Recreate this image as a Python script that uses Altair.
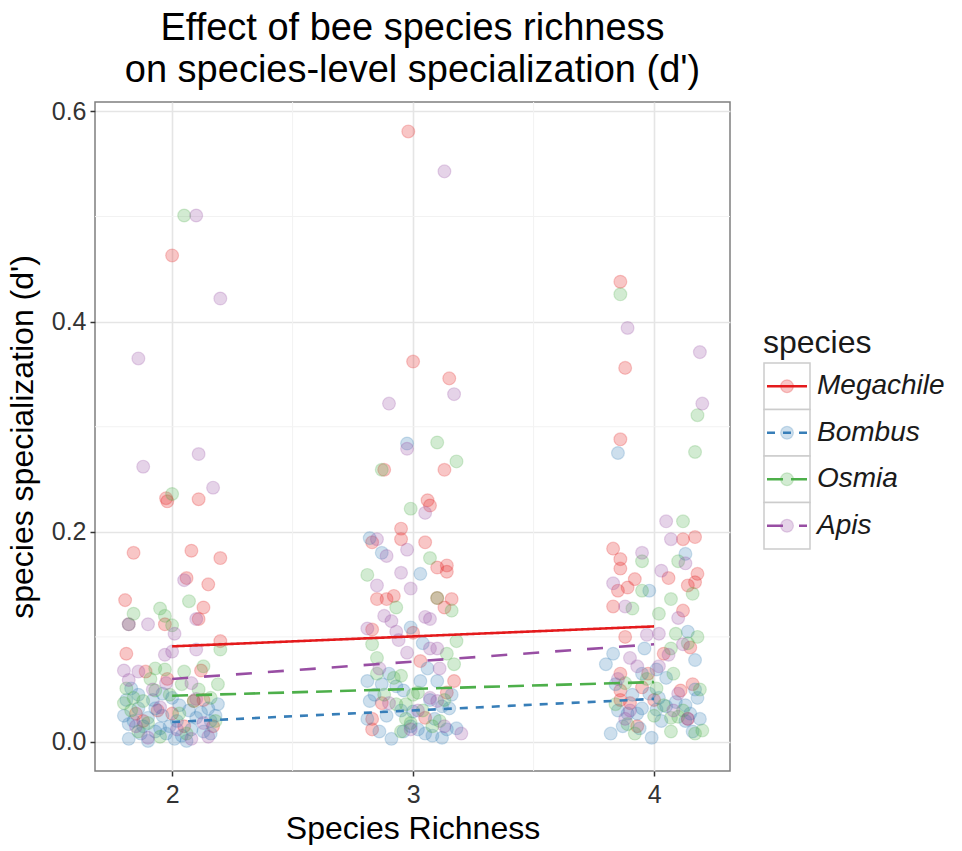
import altair as alt
import pandas as pd

# ---- data -------------------------------------------------------------
species = ["Megachile", "Bombus", "Osmia", "Apis"]
colors = ["#E41A1C", "#377EB8", "#4DAF4A", "#984EA3"]
dashes = [[1, 0], [8, 8], [16, 8], [16, 16]]

richness_ticks = [2, 3, 4]
d_ticks = [0.0, 0.2, 0.4, 0.6]
minor_x = [2.5, 3.5]
minor_y = [0.1, 0.3, 0.5]

# fitted d' at richness 2 and 4 for each species
trend_richness = [2, 4]
trend_megachile = [0.091, 0.110]
trend_bombus = [0.019, 0.041]
trend_osmia = [0.044, 0.057]
trend_apis = [0.060, 0.093]

# jittered observations: (richness, d')
megachile = [
    (1.975, 0.232), (1.98, 0.229), (2.11, 0.231), (2.00, 0.463), (1.84, 0.180),
    (2.08, 0.182), (2.20, 0.175), (2.06, 0.156), (2.15, 0.150), (1.805, 0.135),
    (2.13, 0.128), (1.82, 0.112), (1.97, 0.112), (2.11, 0.117), (2.20, 0.096),
    (1.81, 0.084), (1.89, 0.067), (2.12, 0.068), (1.85, 0.027), (2.00, 0.027),
    (2.05, 0.015), (2.17, 0.015), (1.94, 0.030), (2.09, 0.039),
    (1.88, 0.020), (2.13, 0.040), (1.98, 0.060),
    (2.98, 0.581), (3.00, 0.362), (3.15, 0.346), (2.88, 0.259), (3.13, 0.259),
    (3.06, 0.230), (3.07, 0.225), (2.95, 0.203), (2.83, 0.190), (2.95, 0.193),
    (3.05, 0.190), (3.10, 0.166), (3.14, 0.168), (3.14, 0.162), (2.85, 0.136),
    (2.89, 0.136), (2.92, 0.139), (3.10, 0.137), (3.16, 0.136), (3.13, 0.128),
    (2.83, 0.107), (3.00, 0.104), (3.03, 0.077), (3.17, 0.058), (3.14, 0.047),
    (2.87, 0.037), (2.83, 0.022), (2.83, 0.012), (3.05, 0.023),
    (3.86, 0.438), (3.88, 0.356), (3.86, 0.288), (4.12, 0.193), (4.17, 0.195),
    (3.83, 0.184), (3.86, 0.174), (3.86, 0.165), (4.06, 0.156), (4.18, 0.160),
    (4.17, 0.152), (4.14, 0.149), (3.92, 0.155), (3.89, 0.147), (3.85, 0.144),
    (3.83, 0.129), (4.12, 0.125), (3.88, 0.100), (4.15, 0.090), (4.04, 0.084),
    (3.86, 0.065), (3.975, 0.065), (3.86, 0.049), (3.95, 0.052), (4.16, 0.055),
    (4.11, 0.049), (3.86, 0.040), (3.90, 0.037), (4.14, 0.022),
    (4.00, 0.040), (3.93, 0.015),
]
bombus = [
    (1.82, 0.112), (1.80, 0.025), (1.82, 0.017), (1.82, 0.003), (1.86, 0.032),
    (1.90, 0.023), (1.93, 0.032), (1.96, 0.046), (1.93, 0.010), (1.95, 0.013),
    (1.975, 0.008), (2.02, 0.020), (2.04, 0.006), (2.10, 0.023), (2.15, 0.032),
    (2.16, 0.020), (2.13, 0.010), (2.16, 0.008), (2.00, 0.042), (1.83, 0.051),
    (1.88, 0.015), (2.07, 0.030), (1.90, 0.001), (2.06, 0.001),
    (1.84, 0.020), (1.87, 0.008), (1.92, 0.040), (1.99, 0.015), (2.03, 0.035),
    (2.08, 0.012), (2.12, 0.028), (2.18, 0.025), (1.86, 0.045), (1.96, 0.025),
    (2.01, 0.003), (2.19, 0.036), (1.81, 0.040),
    (2.82, 0.194), (2.87, 0.180), (3.03, 0.160), (2.975, 0.284), (2.99, 0.109),
    (3.04, 0.094), (2.81, 0.058), (2.87, 0.055), (3.03, 0.058), (3.10, 0.058),
    (2.93, 0.053), (2.96, 0.049), (2.82, 0.039), (3.12, 0.034), (3.15, 0.032),
    (2.81, 0.022), (2.86, 0.010), (2.91, 0.003), (2.96, 0.010), (3.05, 0.008),
    (3.08, 0.006), (3.12, 0.004), (3.18, 0.013), (2.99, 0.015), (3.00, 0.029),
    (3.07, 0.040),
    (2.84, 0.045), (2.89, 0.025), (2.95, 0.030), (3.02, 0.012), (3.09, 0.022),
    (3.14, 0.012), (3.16, 0.045), (2.90, 0.065), (3.06, 0.070),
    (3.85, 0.275), (4.13, 0.179), (3.98, 0.144), (3.96, 0.089), (4.14, 0.105),
    (3.83, 0.084), (4.17, 0.078), (3.80, 0.074), (4.01, 0.069), (3.95, 0.065),
    (4.05, 0.061), (4.17, 0.050), (3.98, 0.046), (4.02, 0.042), (4.18, 0.042),
    (3.85, 0.030), (3.89, 0.027), (3.93, 0.027), (3.95, 0.032), (3.94, 0.013),
    (3.82, 0.008), (3.99, 0.004), (4.13, 0.020), (4.15, 0.027), (4.19, 0.022),
    (4.05, 0.034), (4.01, 0.031), (4.13, 0.035),
    (3.87, 0.015), (3.91, 0.045), (4.03, 0.020), (4.09, 0.038), (4.16, 0.010),
    (3.84, 0.055),
]
osmia = [
    (2.05, 0.501), (2.00, 0.236), (1.84, 0.122), (1.95, 0.127), (2.07, 0.134),
    (1.97, 0.120), (2.00, 0.111), (2.20, 0.088), (1.93, 0.070), (1.97, 0.069),
    (2.13, 0.072), (2.05, 0.067), (2.19, 0.055), (1.80, 0.037), (1.84, 0.042),
    (1.88, 0.039), (1.93, 0.049), (1.81, 0.051), (2.03, 0.027), (2.09, 0.039),
    (2.06, 0.008), (1.90, 0.018), (2.16, 0.042),
    (1.83, 0.030), (1.91, 0.060), (1.99, 0.045), (2.11, 0.050), (2.18, 0.020),
    (1.86, 0.010), (2.04, 0.055), (1.95, 0.005),
    (3.18, 0.267), (3.10, 0.285), (2.87, 0.259), (2.99, 0.222), (3.07, 0.175),
    (2.81, 0.159), (2.93, 0.128), (3.10, 0.137), (3.16, 0.125), (2.83, 0.093),
    (3.18, 0.096), (3.14, 0.084), (3.17, 0.074), (2.85, 0.065), (2.92, 0.061),
    (2.95, 0.063), (3.02, 0.047), (2.93, 0.036), (2.97, 0.036), (2.97, 0.022),
    (2.99, 0.018), (3.11, 0.020), (3.00, 0.045),
    (2.88, 0.045), (2.95, 0.010), (3.04, 0.030), (3.08, 0.015), (3.13, 0.040),
    (2.85, 0.080),
    (3.86, 0.426), (4.18, 0.311), (4.17, 0.276), (4.12, 0.210), (3.95, 0.172),
    (4.10, 0.172), (3.95, 0.144), (4.16, 0.141), (4.07, 0.136), (3.91, 0.127),
    (4.02, 0.122), (4.09, 0.103), (4.18, 0.100), (4.07, 0.089), (4.14, 0.094),
    (4.08, 0.065), (3.88, 0.056), (4.01, 0.051), (3.84, 0.036), (3.89, 0.017),
    (4.07, 0.023), (4.07, 0.010), (4.10, 0.024), (4.17, 0.008), (4.20, 0.011),
    (4.04, 0.035),
    (3.92, 0.008), (4.00, 0.025), (4.12, 0.030), (3.97, 0.060), (4.19, 0.050),
]
apis = [
    (1.86, 0.365), (1.88, 0.262), (2.10, 0.501), (2.20, 0.422), (2.11, 0.274),
    (2.17, 0.242), (2.05, 0.154), (1.90, 0.112), (2.01, 0.103), (2.10, 0.117),
    (1.97, 0.083), (2.00, 0.086), (2.10, 0.088), (1.80, 0.068), (1.82, 0.059),
    (1.86, 0.067), (1.975, 0.056), (2.08, 0.056), (1.90, 0.004), (2.08, 0.003),
    (1.95, 0.033), (2.10, 0.041), (2.13, 0.018),
    (1.85, 0.015), (2.02, 0.012), (2.15, 0.005), (1.92, 0.050),
    (3.13, 0.543), (2.90, 0.322), (3.17, 0.331), (2.975, 0.279), (3.05, 0.218),
    (2.85, 0.193), (2.975, 0.183), (2.89, 0.177), (2.95, 0.161), (2.85, 0.149),
    (2.99, 0.146), (2.88, 0.120), (2.91, 0.115), (3.05, 0.119), (3.07, 0.117),
    (2.81, 0.108), (2.93, 0.105), (2.94, 0.097), (3.07, 0.089), (3.10, 0.089),
    (2.975, 0.085), (3.11, 0.070), (2.90, 0.037), (3.07, 0.042), (3.10, 0.039),
    (2.99, 0.012), (3.20, 0.008),
    (3.02, 0.030), (3.13, 0.015), (2.86, 0.070),
    (3.89, 0.394), (4.19, 0.371), (4.20, 0.322), (4.05, 0.210), (4.07, 0.193),
    (3.95, 0.180), (4.13, 0.170), (4.03, 0.163), (3.83, 0.151), (3.88, 0.129),
    (4.10, 0.118), (3.97, 0.102), (4.02, 0.103), (4.12, 0.093), (3.90, 0.080),
    (4.06, 0.083), (4.02, 0.072), (4.10, 0.046), (3.88, 0.022), (4.14, 0.022),
    (3.85, 0.060), (3.93, 0.072),
    (3.90, 0.030), (4.08, 0.030),
]

# ---- tables -------------------------------------------------------------
obs = {"Megachile": megachile, "Bombus": bombus, "Osmia": osmia, "Apis": apis}
points_df = pd.DataFrame(
    [{"species": s, "richness": x, "d": y} for s in species for x, y in obs[s]]
)
trends = {"Megachile": trend_megachile, "Bombus": trend_bombus,
          "Osmia": trend_osmia, "Apis": trend_apis}
trend_df = pd.DataFrame(
    [{"species": s, "richness": r, "d": v}
     for s in species for r, v in zip(trend_richness, trends[s])]
)
legend_df = pd.DataFrame({"species": species})

FONT = "Liberation Sans"

x_scale = alt.Scale(domain=[1.68, 4.315], nice=False, zero=False)
y_scale = alt.Scale(domain=[-0.0276, 0.609], nice=False, zero=False)
color_scale = alt.Scale(domain=species, range=colors)
dash_scale = alt.Scale(domain=species, range=dashes)

x_enc = alt.X("richness:Q", scale=x_scale,
              axis=alt.Axis(values=richness_ticks, format="d", title="Species Richness"))
y_enc = alt.Y("d:Q", scale=y_scale,
              axis=alt.Axis(values=d_ticks, format=".1f",
                            title="species specialization (d')"))

# minor grid lines
minor_v = alt.Chart(pd.DataFrame({"richness": minor_x})).mark_rule(
    color="#f2f2f2", strokeWidth=1
).encode(x=alt.X("richness:Q", scale=x_scale))
minor_h = alt.Chart(pd.DataFrame({"d": minor_y})).mark_rule(
    color="#f2f2f2", strokeWidth=1
).encode(y=alt.Y("d:Q", scale=y_scale))

dot_style = dict(size=165, fillOpacity=0.25, strokeOpacity=0.22, strokeWidth=1.2)

points = alt.Chart(points_df).mark_circle(**dot_style).encode(
    x=x_enc,
    y=y_enc,
    color=alt.Color("species:N", scale=color_scale, legend=None),
    stroke=alt.Stroke("species:N", scale=color_scale, legend=None),
)

lines = alt.Chart(trend_df).mark_line(strokeWidth=2.6).encode(
    x=alt.X("richness:Q", scale=x_scale),
    y=alt.Y("d:Q", scale=y_scale),
    color=alt.Color("species:N", scale=color_scale, legend=None),
    strokeDash=alt.StrokeDash("species:N", scale=dash_scale, legend=None),
    detail="species:N",
)

panel = alt.layer(minor_v, minor_h, points, lines)

# hand-built legend with boxed keys to the right of the panel
key_band = alt.Scale(domain=species, range=[261, 447], paddingInner=0, paddingOuter=0)
key_y = alt.Y("species:N", sort=species, scale=key_band, axis=None)
key_mid = alt.Y("species:N", sort=species, scale=key_band, axis=None, bandPosition=0.5)

key_box = alt.Chart(legend_df).mark_rect(
    fill="white", stroke="#cccccc", strokeWidth=1.5
).encode(x=alt.value(669), x2=alt.value(715), y=key_y)

key_line = alt.Chart(legend_df).mark_rule(strokeWidth=2.6).encode(
    x=alt.value(672), x2=alt.value(712), y=key_mid,
    color=alt.Color("species:N", scale=color_scale, legend=None),
    strokeDash=alt.StrokeDash("species:N", scale=dash_scale, legend=None),
)
key_dot = alt.Chart(legend_df).mark_circle(**dot_style).encode(
    x=alt.value(692), y=key_mid,
    color=alt.Color("species:N", scale=color_scale, legend=None),
    stroke=alt.Stroke("species:N", scale=color_scale, legend=None),
)
key_text = alt.Chart(legend_df).mark_text(
    align="left", baseline="middle", font=FONT, fontSize=28,
    fontStyle="italic", color="#1a1a1a"
).encode(x=alt.value(722), y=key_mid, text="species:N")

key_title = alt.Chart(pd.DataFrame({"t": ["species"]})).mark_text(
    align="left", baseline="alphabetic", font=FONT, fontSize=32, color="#1a1a1a"
).encode(x=alt.value(668), y=alt.value(251), text="t:N")

legend = alt.layer(key_box, key_line, key_dot, key_text, key_title)

chart = (
    alt.layer(panel, legend)
    .resolve_scale(y="independent")
    .properties(
        width=635,
        height=669,
        padding={"left": 6, "top": 10, "right": 0, "bottom": 1},
        title=alt.Title(
            text=["Effect of bee species richness",
                  "on species-level specialization (d')"],
            font=FONT, fontSize=38, fontWeight="normal", color="black",
            anchor="middle", frame="group", lineHeight=42, offset=9,
        ),
    )
    .configure_view(stroke="#7f7f7f", strokeWidth=1.5)
    .configure_axis(
        labelFont=FONT, labelFontSize=25, labelColor="#333333",
        titleFont=FONT, titleFontSize=32, titleFontWeight="normal", titleColor="black",
        tickColor="#333333", tickSize=5, tickWidth=1.5, domain=False,
        gridColor="#e5e5e5", gridWidth=1.6,
    )
    .configure_axisY(labelPadding=4, titlePadding=12)
    .configure_axisX(labelPadding=6, titlePadding=6)
)

chart.save("out.html", embed_options={"renderer": "svg", "actions": False})
